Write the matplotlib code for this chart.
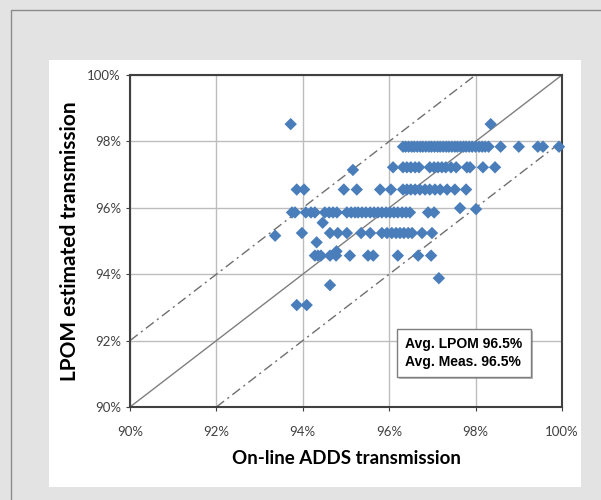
import matplotlib
matplotlib.use("Agg")
import matplotlib.pyplot as plt
import matplotlib.patheffects as pe
from matplotlib.patches import Rectangle
import numpy as np

# measured (x = on-line ADDS, y = LPOM estimate), in %
row_978_x = [96.32, 96.38, 96.45, 96.52, 96.58, 96.65, 96.72, 96.78, 96.85, 96.92,
             96.98, 97.05, 97.12, 97.18, 97.25, 97.32, 97.38, 97.45, 97.52, 97.58,
             97.65, 97.72, 97.78, 97.85, 97.92, 98.00, 98.08, 98.15, 98.22, 98.30,
             98.58, 99.00, 99.44, 99.56, 99.93]
row_972_x = [96.09, 96.32, 96.41, 96.50, 96.60, 96.69, 96.94, 97.04, 97.13, 97.22,
             97.31, 97.43, 97.55, 97.80, 97.87, 98.17, 98.45]
row_965_x = [93.86, 94.03, 94.95, 95.25, 95.79, 96.04, 96.32, 96.41, 96.50, 96.60,
             96.71, 96.83, 96.94, 97.06, 97.18, 97.34, 97.52, 97.78]
row_958_x = [93.75, 93.82, 94.07, 94.19, 94.28, 94.51, 94.61, 94.70, 94.79, 95.02,
             95.12, 95.21, 95.28, 95.37, 95.46, 95.56, 95.65, 95.74, 95.83, 95.93,
             96.02, 96.11, 96.20, 96.30, 96.39, 96.48, 96.90, 97.04]
row_952_x = [93.98, 94.63, 94.81, 95.02, 95.35, 95.56, 95.83, 95.95, 96.06, 96.16,
             96.25, 96.34, 96.44, 96.53, 96.76, 96.99]
row_946_x = [94.28, 94.35, 94.42, 94.63, 94.77, 95.09, 95.51, 95.63, 96.20, 96.67, 96.97]

row_levels = [97.84, 97.22, 96.55, 95.86, 95.24, 94.56]

other_x = [93.72, 98.35, 95.16, 97.64, 98.01, 93.36, 94.46, 94.32, 94.78,
           97.15, 94.63, 93.86, 94.09]
other_y = [98.52, 98.52, 97.14, 95.99, 95.96, 95.16, 95.55, 94.96, 94.69,
           93.88, 93.67, 93.07, 93.07]

ticks = [90, 92, 94, 96, 98, 100]
tick_labels = ["90%", "92%", "94%", "96%", "98%", "100%"]
note = "Avg. LPOM 96.5%\nAvg. Meas. 96.5%"

rows = [row_978_x, row_972_x, row_965_x, row_958_x, row_952_x, row_946_x]
xs = np.concatenate([np.array(r) for r in rows] + [np.array(other_x)])
ys = np.concatenate([np.full(len(r), lv) for r, lv in zip(rows, row_levels)] + [np.array(other_y)])

fig = plt.figure(figsize=(6.01, 5.0), dpi=100, facecolor="#e3e3e3")
# outer frame and white chart area (behind the axes)
fig.patches.append(Rectangle((0.0183, -0.1), 1.2, 1.08, transform=fig.transFigure,
                             facecolor="none", edgecolor="#8c8c8c", lw=1.0, zorder=-2))
fig.patches.append(Rectangle((0.0815, 0.026), 0.885, 0.854, transform=fig.transFigure,
                             facecolor="white", edgecolor="none", zorder=-1))

ax = fig.add_axes([0.2163, 0.186, 0.7188, 0.664])
ax.set_xlim(90, 100)
ax.set_ylim(90, 100)
ax.grid(True, color="#bdbdbd", lw=1.0)
ax.set_axisbelow(True)

ax.plot([90, 100], [90, 100], color="#7f7f7f", lw=1.0, zorder=2)
ax.plot([90, 98], [92, 100], color="#6f6f6f", lw=1.0, ls=(0, (7, 3, 1.5, 3)), zorder=2)
ax.plot([92, 100], [90, 98], color="#6f6f6f", lw=1.0, ls=(0, (7, 3, 1.5, 3)), zorder=2)

ax.scatter(xs, ys, marker="D", s=40, color="#4a7ebb", edgecolors="none", zorder=3,
           clip_on=False)

ax.set_xticks(ticks)
ax.set_yticks(ticks)
ax.set_xticklabels(tick_labels)
ax.set_yticklabels(tick_labels)
ax.tick_params(labelsize=9.5, colors="#404040", length=3, width=0.8)
for lab in ax.get_xticklabels() + ax.get_yticklabels():
    lab.set_family("Lato")
ax.tick_params(axis="x", pad=11)
for sp in ax.spines.values():
    sp.set_color("#404040")
    sp.set_linewidth(1.5)

ax.set_xlabel("On-line ADDS transmission", fontsize=13.5, fontweight="bold",
              family="Lato", labelpad=8)
ax.set_ylabel("LPOM estimated transmission", fontsize=15, fontweight="bold",
              family="Lato", labelpad=5)

t = ax.text(96.37, 91.63, note, fontsize=10, fontweight="bold", family="Liberation Sans",
            va="center", ha="left", linespacing=1.35, zorder=5,
            bbox=dict(boxstyle="square,pad=0.6", facecolor="white", edgecolor="#7f7f7f", lw=1.0))
t.get_bbox_patch().set_path_effects([pe.SimplePatchShadow(offset=(1.5, -1.5), alpha=0.4),
                                     pe.Normal()])

fig.savefig("out.png", dpi=100, facecolor=fig.get_facecolor())
